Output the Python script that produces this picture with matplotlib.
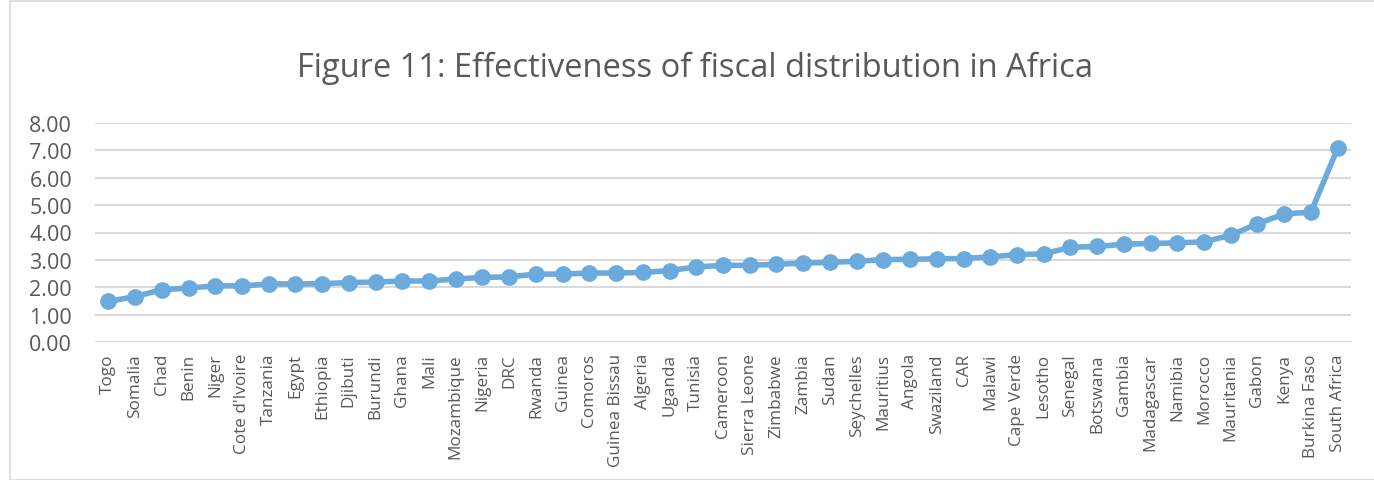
import matplotlib.pyplot as plt
from matplotlib.patches import Rectangle

countries = ['Togo', 'Somalia', 'Chad', 'Benin', 'Niger', "Cote d'Ivoire", 'Tanzania',
             'Egypt', 'Ethiopia', 'Djibuti', 'Burundi', 'Ghana', 'Mali', 'Mozambique',
             'Nigeria', 'DRC', 'Rwanda', 'Guinea', 'Comoros', 'Guinea Bissau', 'Algeria',
             'Uganda', 'Tunisia', 'Cameroon', 'Sierra Leone', 'Zimbabwe', 'Zambia', 'Sudan',
             'Seychelles', 'Mauritius', 'Angola', 'Swaziland', 'CAR', 'Malawi', 'Cape Verde',
             'Lesotho', 'Senegal', 'Botswana', 'Gambia', 'Madagascar', 'Namibia', 'Morocco',
             'Mauritania', 'Gabon', 'Kenya', 'Burkina Faso', 'South Africa']
values = [1.48, 1.66, 1.91, 1.97, 2.05, 2.05, 2.12, 2.12, 2.13, 2.17, 2.19, 2.23, 2.23,
          2.30, 2.36, 2.38, 2.48, 2.48, 2.52, 2.52, 2.54, 2.61, 2.74, 2.80, 2.80, 2.84,
          2.88, 2.91, 2.95, 3.01, 3.02, 3.04, 3.05, 3.11, 3.19, 3.22, 3.46, 3.49, 3.57,
          3.60, 3.62, 3.66, 3.90, 4.32, 4.68, 4.74, 7.08]
yticks = [0, 1, 2, 3, 4, 5, 6, 7, 8]

plt.rcParams['font.family'] = ['Open Sans', 'DejaVu Sans']

fig = plt.figure(figsize=(13.74, 4.81), dpi=100)
fig.patches.append(Rectangle((10 / 1374, 0.0), 1.2, 0.996, transform=fig.transFigure,
                             fill=False, edgecolor='#d9d9d9', linewidth=1.2))

ax = fig.add_axes([95 / 1374, 1 - 343 / 481, (1351 - 95) / 1374, (343 - 124) / 481])
x = list(range(len(countries)))
ax.plot(x, values, color='#6aaadc', linewidth=4, marker='o', markersize=11,
        solid_capstyle='round', zorder=3)

ax.set_xlim(-0.5, len(countries) - 0.5)
ax.set_ylim(0, 8)
ax.set_yticks(yticks)
ax.set_yticklabels([f'{v:.2f}' for v in yticks], fontsize=15.5, color='#595959')
ax.set_xticks(x)
ax.set_xticklabels(countries, rotation=90, fontsize=12.3, color='#595959')
ax.tick_params(length=0)
ax.tick_params(axis='y', pad=16.5)
ax.tick_params(axis='x', pad=8)
ax.grid(axis='y', color='#d9d9d9', linewidth=1.5)
ax.set_axisbelow(True)
for s in ax.spines.values():
    s.set_visible(False)

fig.text(0.506, 0.858, 'Figure 11: Effectiveness of fiscal distribution in Africa',
         ha='center', va='center', fontsize=23.5, color='#595959')

fig.savefig('out.png', dpi=100)
